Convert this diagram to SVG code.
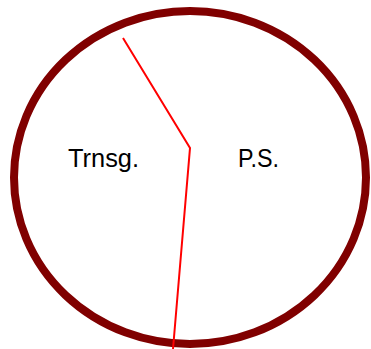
<svg xmlns="http://www.w3.org/2000/svg" width="371" height="349" viewBox="0 0 371 349">
<style>
.lbl{font-family:"Liberation Sans",Arial,sans-serif;font-size:25px;fill:#000}
.ring{fill:#fff;stroke:#800000;stroke-width:8}
.div{fill:none;stroke:#ff0000;stroke-width:2}
</style>
<rect width="371" height="349" fill="#fff"/>
<g id="circle"><ellipse class="ring" cx="190" cy="177.5" rx="176" ry="166.5"/></g>
<g id="connectors"><polyline class="div" points="123,38 190,148 173,349"/></g>
<g id="trnsg"><text class="lbl" x="68" y="167" textLength="71" lengthAdjust="spacingAndGlyphs">Trnsg.</text></g>
<g id="ps"><text class="lbl" x="238" y="167" textLength="41" lengthAdjust="spacingAndGlyphs">P.S.</text></g>
</svg>
